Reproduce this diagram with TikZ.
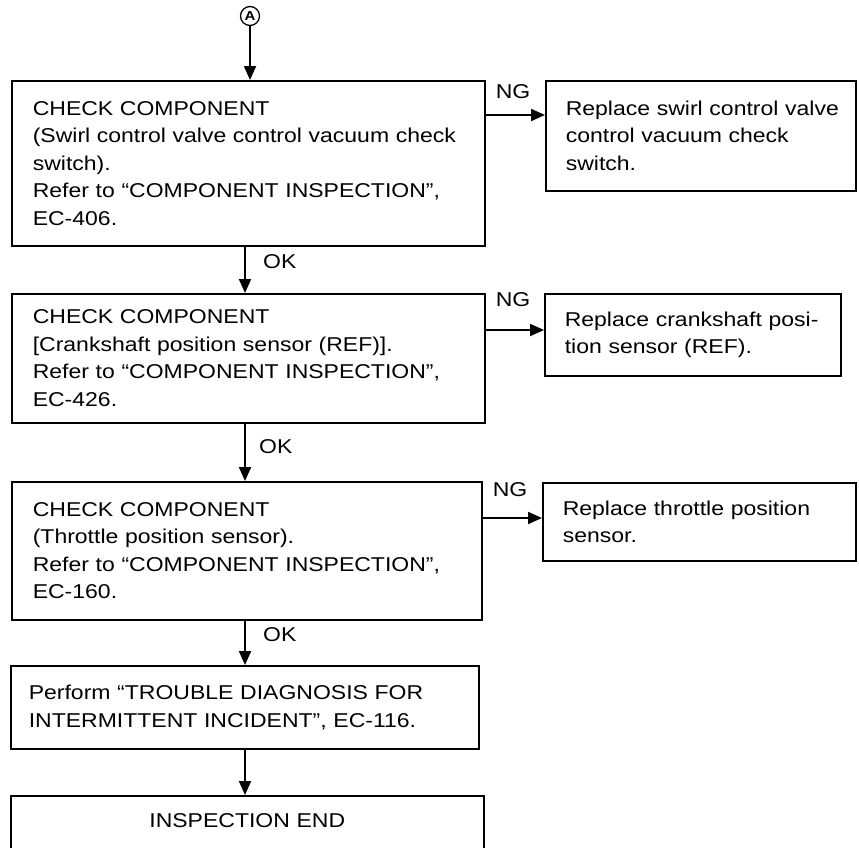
\documentclass[tikz,border=0pt]{standalone}
\usepackage{fontspec}
\setmainfont{Liberation Sans}[FakeStretch=1.15]
\usetikzlibrary{arrows.meta}
\tikzset{
  box/.style={draw, line width=1.6pt, rectangle, anchor=north west, align=left,
    inner xsep=21pt, inner ysep=0pt, font=\fontsize{20}{27.5}\selectfont},
  lbl/.style={font=\fontsize{20}{24}\selectfont, inner sep=0pt},
  arr/.style={line width=2pt, -{Triangle[length=14pt,width=12pt]}},
}
\begin{document}
\begin{tikzpicture}[x=1pt,y=-1pt]
\useasboundingbox (0,0) rectangle (859,847);
% marker
\node[circle, draw, line width=1.3pt, minimum size=19pt, inner sep=0pt,
      font=\bfseries\fontsize{13}{13}\selectfont] (A) at (250,16) {A};
% left column boxes
\node[box, minimum width=473pt, minimum height=165pt, text width=431pt] (b1) at (11,80)
  {CHECK COMPONENT\\(Swirl control valve control vacuum check\\switch).\\Refer to “COMPONENT INSPECTION”,\\EC-406.};
\node[box, minimum width=473pt, minimum height=129pt, text width=431pt] (b2) at (11,293)
  {CHECK COMPONENT\\{[}Crankshaft position sensor (REF)].\\Refer to “COMPONENT INSPECTION”,\\EC-426.};
\node[box, minimum width=470pt, minimum height=138pt, text width=428pt] (b3) at (11,481)
  {CHECK COMPONENT\\(Throttle position sensor).\\Refer to “COMPONENT INSPECTION”,\\EC-160.};
\node[box, minimum width=468pt, minimum height=83pt, text width=432pt, inner xsep=18pt] (b4) at (10,665)
  {Perform “TROUBLE DIAGNOSIS FOR\\INTERMITTENT INCIDENT”, EC-116.};
\node[box, minimum width=467pt, minimum height=90pt, text width=431pt, align=center,
      text depth=40pt] (b5) at (10,795)
  {INSPECTION END};
% right column boxes
\node[box, minimum width=310pt, minimum height=110pt, text width=270pt, inner xsep=20pt] (r1) at (545,80)
  {\mbox{Replace swirl control valve}\\\mbox{control vacuum check}\\switch.};
\node[box, minimum width=296pt, minimum height=82pt, text width=256pt, inner xsep=20pt] (r2) at (544,293)
  {\mbox{Replace crankshaft posi-}\\\mbox{tion sensor (REF).}};
\node[box, minimum width=313pt, minimum height=78pt, text width=273pt, inner xsep=20pt] (r3) at (542,482)
  {\mbox{Replace throttle position}\\sensor.};
% helper coordinates
\coordinate (ax) at (245,0);
\coordinate (y1) at (0,115);
\coordinate (y2) at (0,330);
\coordinate (y3) at (0,518);
% vertical connectors
\draw[arr] (A) -- (b1.north -| A);
\draw[arr] (b1.south -| ax) -- (b2.north -| ax);
\draw[arr] (b2.south -| ax) -- (b3.north -| ax);
\draw[arr] (b3.south -| ax) -- (b4.north -| ax);
\draw[arr] (b4.south -| ax) -- (b5.north -| ax);
% NG connectors
\draw[arr] (b1.east |- y1) -- (r1.west |- y1);
\draw[arr] (b2.east |- y2) -- (r2.west |- y2);
\draw[arr] (b3.east |- y3) -- (r3.west |- y3);
% labels
\node[lbl] (ng1) at (513,92) {NG};
\node[lbl] (ng2) at (513,300) {NG};
\node[lbl] (ng3) at (510,490) {NG};
\node[lbl, anchor=west] (ok1) at (263,262) {OK};
\node[lbl, anchor=west] (ok2) at (259,447) {OK};
\node[lbl, anchor=west] (ok3) at (263,635) {OK};
\end{tikzpicture}
\end{document}
